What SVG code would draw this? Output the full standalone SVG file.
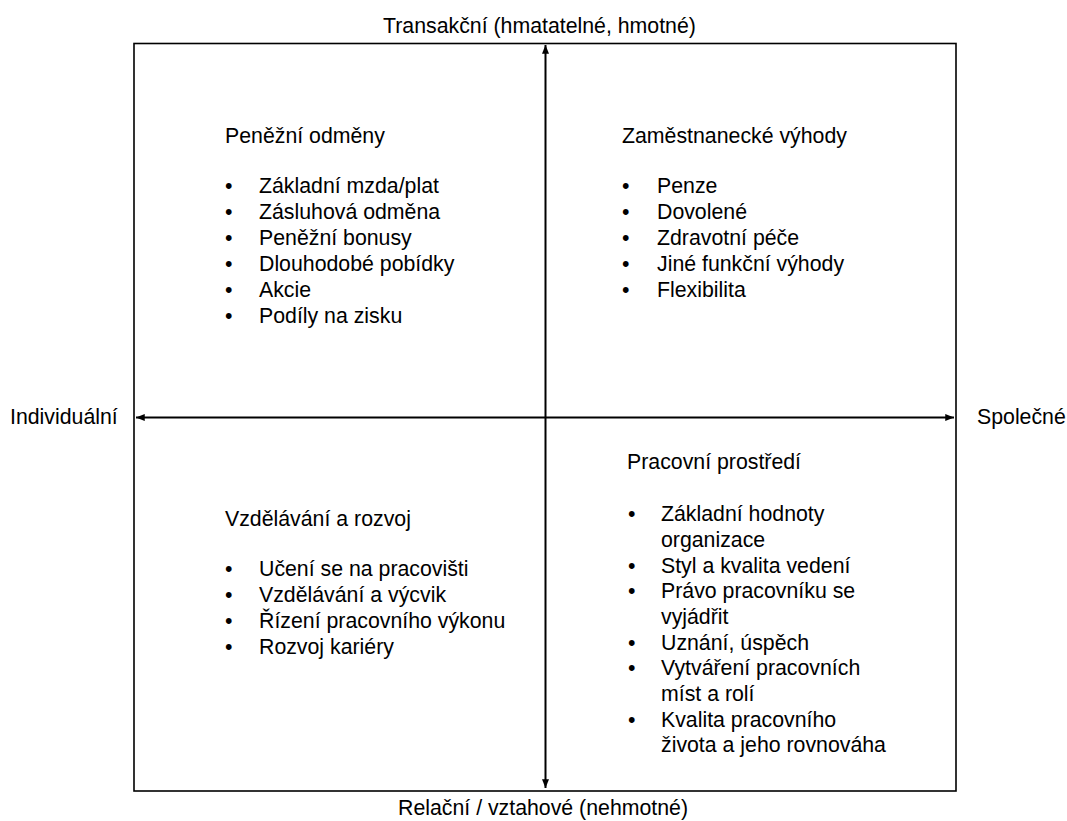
<svg xmlns="http://www.w3.org/2000/svg" width="1067" height="821" viewBox="0 0 1067 821">
<style>
text{font-family:"Liberation Sans",Arial,Helvetica,sans-serif;font-size:21.3px;fill:#000}
.ax{stroke:#000;stroke-width:2;fill:none}
</style>
<defs>
<marker id="ah" viewBox="0 0 10 8" refX="10" refY="4" markerWidth="9" markerHeight="7" markerUnits="userSpaceOnUse" orient="auto-start-reverse">
<path d="M0,0 L10,4 L0,8 Z" fill="#000"/>
</marker>
</defs>
<rect width="1067" height="821" fill="#fff"/>
<g id="frame">
<rect x="134" y="43.5" width="822" height="747.5" fill="none" stroke="#000" stroke-width="1.6"/>
</g>
<g id="connectors">
<line class="ax" x1="545.5" y1="788" x2="545.5" y2="45" marker-start="url(#ah)" marker-end="url(#ah)"/>
<line class="ax" x1="136" y1="417.5" x2="954" y2="417.5" marker-start="url(#ah)" marker-end="url(#ah)"/>
</g>
<g id="axis-labels">
<text x="383" y="33">Transakční (hmatatelné, hmotné)</text>
<text x="398" y="815">Relační / vztahové (nehmotné)</text>
<text x="10" y="424">Individuální</text>
<text x="977" y="424">Společné</text>
</g>
<g id="q-top-left">
<text x="225" y="143">Peněžní odměny</text>
<text x="225" y="193">•</text><text x="259" y="193">Základní mzda/plat</text>
<text x="225" y="219">•</text><text x="259" y="219">Zásluhová odměna</text>
<text x="225" y="245">•</text><text x="259" y="245">Peněžní bonusy</text>
<text x="225" y="271">•</text><text x="259" y="271">Dlouhodobé pobídky</text>
<text x="225" y="297">•</text><text x="259" y="297">Akcie</text>
<text x="225" y="323">•</text><text x="259" y="323">Podíly na zisku</text>
</g>
<g id="q-top-right">
<text x="622" y="143">Zaměstnanecké výhody</text>
<text x="622" y="193">•</text><text x="657" y="193">Penze</text>
<text x="622" y="219">•</text><text x="657" y="219">Dovolené</text>
<text x="622" y="245">•</text><text x="657" y="245">Zdravotní péče</text>
<text x="622" y="271">•</text><text x="657" y="271">Jiné funkční výhody</text>
<text x="622" y="297">•</text><text x="657" y="297">Flexibilita</text>
</g>
<g id="q-bottom-left">
<text x="225" y="526">Vzdělávání a rozvoj</text>
<text x="225" y="576">•</text><text x="259" y="576">Učení se na pracovišti</text>
<text x="225" y="602">•</text><text x="259" y="602">Vzdělávání a výcvik</text>
<text x="225" y="628">•</text><text x="259" y="628">Řízení pracovního výkonu</text>
<text x="225" y="654">•</text><text x="259" y="654">Rozvoj kariéry</text>
</g>
<g id="q-bottom-right">
<text x="627" y="469">Pracovní prostředí</text>
<text x="628" y="521">•</text><text x="661" y="521">Základní hodnoty</text>
<text x="661" y="547">organizace</text>
<text x="628" y="573">•</text><text x="661" y="573">Styl a kvalita vedení</text>
<text x="628" y="598">•</text><text x="661" y="598">Právo pracovníku se</text>
<text x="661" y="624">vyjádřit</text>
<text x="628" y="650">•</text><text x="661" y="650">Uznání, úspěch</text>
<text x="628" y="675">•</text><text x="661" y="675">Vytváření pracovních</text>
<text x="661" y="701">míst a rolí</text>
<text x="628" y="727">•</text><text x="661" y="727">Kvalita pracovního</text>
<text x="661" y="752">života a jeho rovnováha</text>
</g>
</svg>
